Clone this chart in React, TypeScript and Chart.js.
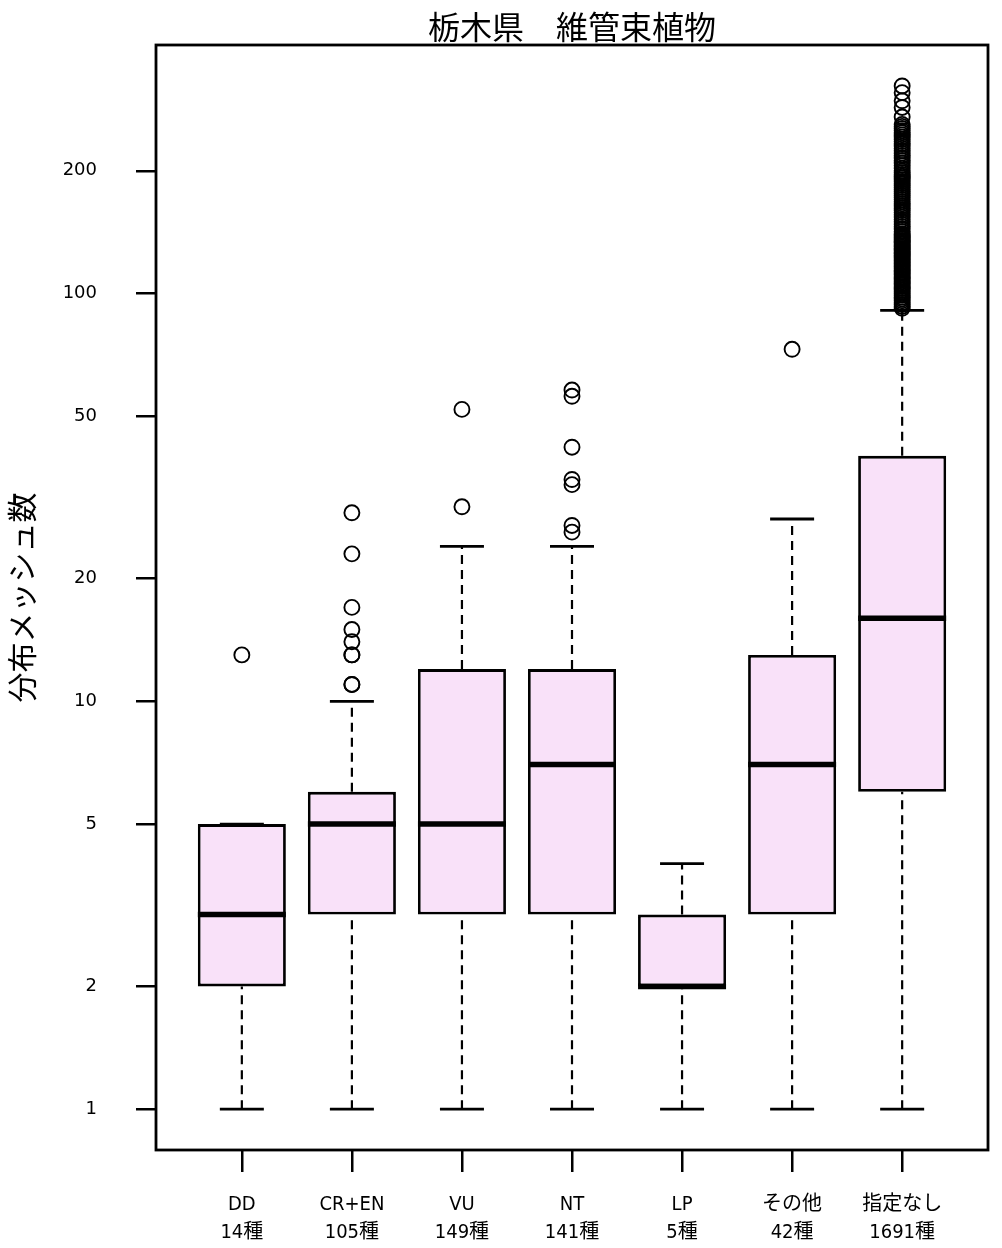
import React, { useEffect, useRef } from 'react';
import { Chart, registerables } from 'chart.js';

Chart.register(...registerables);

const chartTitle = '栃木県　維管束植物';
const yAxisTitle = '分布メッシュ数';
const categories = ['DD', 'CR+EN', 'VU', 'NT', 'LP', 'その他', '指定なし'];
const speciesCounts = ['14種', '105種', '149種', '141種', '5種', '42種', '1691種'];
const whiskerLow = [1, 1, 1, 1, 1, 1, 1];
const quartile1 = [2, 3, 3, 3, 2, 3, 6];
const medians = [3, 5, 5, 7, 2, 7, 16];
const quartile3 = [5, 6, 12, 12, 3, 13, 40];
const whiskerHigh = [5, 10, 24, 24, 4, 28, 91];
const outliersDD = [13];
const outliersCREN = [11, 11, 13, 13, 14, 15, 17, 23, 29];
const outliersVU = [30, 52];
const outliersNT = [26, 27, 34, 35, 42, 56, 58];
const outliersLP: number[] = [];
const outliersOther = [73];
const outliersNone = [
  92, 93, 94, 95, 96, 97, 98, 99, 100, 101, 102, 103, 104, 105, 106, 107, 108, 109, 110, 111,
  112, 113, 114, 115, 116, 117, 118, 119, 120, 121, 122, 123, 124, 125, 126, 127, 128, 129, 130,
  131, 132, 133, 134, 135, 136, 137, 138, 139, 140, 142, 144, 146, 148, 150, 152, 154, 156, 158,
  160, 162, 164, 166, 168, 170, 172, 174, 176, 178, 180, 182, 184, 186, 188, 190, 192, 194, 196,
  198, 200, 203, 206, 209, 212, 215, 218, 221, 224, 227, 230, 233, 236, 239, 242, 245, 248, 251,
  254, 257, 260, 271, 286, 297, 311, 323,
];
const outlierGroups = [outliersDD, outliersCREN, outliersVU, outliersNT, outliersLP, outliersOther, outliersNone];
const yTicks = [1, 2, 5, 10, 20, 50, 100, 200];

const BOX_FILL = '#F9E1F9';
const CJK = "'Noto Sans CJK JP', sans-serif";
const NARROW = "'DejaVu Sans Condensed', 'Liberation Sans Narrow', 'Noto Sans CJK JP', sans-serif";

const framePlugin = {
  id: 'frame',
  afterDatasetsDraw(chart: any) {
    const { ctx, chartArea } = chart;
    ctx.save();
    ctx.strokeStyle = '#000';
    ctx.lineWidth = 2.8;
    ctx.strokeRect(chartArea.left, chartArea.top, chartArea.right - chartArea.left, chartArea.bottom - chartArea.top);
    ctx.restore();
  },
};

const zeroPadding = (scale: any) => {
  scale.paddingTop = 0;
  scale.paddingBottom = 0;
  scale.paddingLeft = 0;
  scale.paddingRight = 0;
};

export default function App() {
  const ref = useRef<HTMLCanvasElement | null>(null);

  useEffect(() => {
    document.body.style.margin = '0';
    if (!ref.current) return;

    const xs = categories.map((_, i) => i + 1);
    const boxes = xs.map((x, i) => ({ x, y: [quartile1[i], quartile3[i]] }));
    const lowerWhiskers: any[] = [];
    const upperWhiskers: any[] = [];
    xs.forEach((x, i) => {
      lowerWhiskers.push({ x, y: whiskerLow[i] }, { x, y: quartile1[i] }, { x, y: null });
      upperWhiskers.push({ x, y: quartile3[i] }, { x, y: whiskerHigh[i] }, { x, y: null });
    });
    const caps = [
      ...xs.map((x, i) => ({ x, y: whiskerLow[i] })),
      ...xs.map((x, i) => ({ x, y: whiskerHigh[i] })),
    ];
    const medianPts = xs.map((x, i) => ({ x, y: medians[i] }));
    const outlierPts: any[] = [];
    outlierGroups.forEach((g, i) => g.forEach((v) => outlierPts.push({ x: i + 1, y: v })));

    const chart = new Chart(ref.current, {
      type: 'scatter',
      data: {
        datasets: [
          {
            type: 'line',
            data: lowerWhiskers,
            borderColor: '#000',
            borderWidth: 2.2,
            borderDash: [9, 6],
            pointRadius: 0,
            spanGaps: false,
            fill: false,
            order: 4,
          } as any,
          {
            type: 'line',
            data: upperWhiskers,
            borderColor: '#000',
            borderWidth: 2.2,
            borderDash: [9, 6],
            pointRadius: 0,
            spanGaps: false,
            fill: false,
            order: 4,
          } as any,
          {
            type: 'bar',
            data: boxes,
            backgroundColor: BOX_FILL,
            borderColor: '#000',
            borderWidth: 2.8,
            borderSkipped: false,
            barPercentage: 0.8,
            categoryPercentage: 1.0,
            order: 3,
          } as any,
          {
            type: 'scatter',
            data: caps,
            pointStyle: 'line',
            pointRadius: 22,
            borderColor: '#000',
            borderWidth: 2.8,
            order: 2,
          } as any,
          {
            type: 'scatter',
            data: medianPts,
            pointStyle: 'line',
            pointRadius: 44,
            borderColor: '#000',
            borderWidth: 5.5,
            order: 1,
          } as any,
          {
            type: 'scatter',
            data: outlierPts,
            pointStyle: 'circle',
            pointRadius: 7.5,
            borderColor: '#000',
            borderWidth: 1.9,
            backgroundColor: 'rgba(0,0,0,0)',
            order: 0,
          } as any,
        ],
      },
      options: {
        responsive: false,
        animation: false,
        events: [],
        layout: { autoPadding: false, padding: { left: 0, right: 14, top: 0, bottom: 0 } },
        plugins: { legend: { display: false }, tooltip: { enabled: false }, title: { display: false } },
        scales: {
          x: {
            type: 'linear',
            position: 'bottom',
            offset: false,
            min: 0.22,
            max: 7.78,
            afterBuildTicks: (axis: any) => {
              axis.ticks = xs.map((v) => ({ value: v }));
            },
            afterFit: (scale: any) => {
              scale.height = 98;
              zeroPadding(scale);
            },
            border: { display: false },
            grid: { offset: false, drawOnChartArea: false, drawTicks: true, tickLength: 22, color: '#000', lineWidth: 2.5 },
            ticks: {
              autoSkip: false,
              maxRotation: 0,
              padding: 19,
              color: '#000',
              font: { family: NARROW, size: 20, lineHeight: 1.4 },
              callback: (v: any) => {
                const i = Math.round(Number(v)) - 1;
                return [categories[i], speciesCounts[i]];
              },
            },
          },
          top: {
            type: 'linear',
            position: 'top',
            offset: false,
            afterFit: (scale: any) => {
              scale.height = 45;
              zeroPadding(scale);
            },
            border: { display: false },
            grid: { display: false },
            ticks: { display: false },
            title: {
              display: true,
              text: chartTitle,
              color: '#000',
              font: { family: CJK, size: 32, lineHeight: 1.2 },
              padding: { top: 8, bottom: 0 },
            },
          },
          y: {
            type: 'logarithmic',
            position: 'left',
            min: 0.794,
            max: 407,
            afterBuildTicks: (axis: any) => {
              axis.ticks = yTicks.map((v) => ({ value: v }));
            },
            afterFit: (scale: any) => {
              scale.width = 156;
              zeroPadding(scale);
            },
            border: { display: false },
            grid: { drawOnChartArea: false, drawTicks: true, tickLength: 20, color: '#000', lineWidth: 2.5 },
            ticks: {
              autoSkip: false,
              padding: 39,
              color: '#000',
              font: { family: "'DejaVu Sans', sans-serif", size: 18 },
              callback: (v: any) => String(v),
            },
            title: {
              display: true,
              text: yAxisTitle,
              color: '#000',
              font: { family: CJK, size: 30, lineHeight: 1.2 },
              padding: { top: 4, bottom: 0 },
            },
          },
        },
      } as any,
      plugins: [framePlugin],
    });

    return () => chart.destroy();
  }, []);

  return (
    <div style={{ width: 1002, height: 1248 }}>
      <canvas ref={ref} width={1002} height={1248} />
    </div>
  );
}
